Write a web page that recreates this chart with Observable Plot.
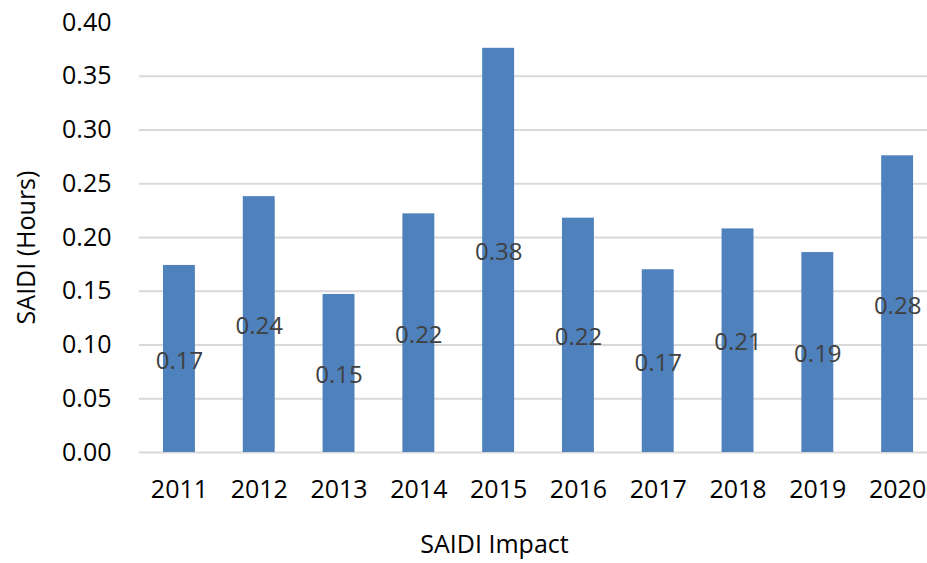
<!DOCTYPE html>
<html>
<head>
<meta charset="utf-8">
<script src="https://cdn.jsdelivr.net/npm/d3@7"></script>
<script src="https://cdn.jsdelivr.net/npm/@observablehq/plot@0.6"></script>
<style>
  html, body { margin: 0; padding: 0; background: #fff; }
  #chart svg { display: block; }
</style>
</head>
<body>
<div id="chart"></div>
<script>
const years = ["2011","2012","2013","2014","2015","2016","2017","2018","2019","2020"];
const saidi = [0.174, 0.238, 0.147, 0.222, 0.376, 0.218, 0.170, 0.208, 0.186, 0.276];
const yTicks = [0, 0.05, 0.10, 0.15, 0.20, 0.25, 0.30, 0.35, 0.40];
const gridTicks = [0, 0.05, 0.10, 0.15, 0.20, 0.25, 0.30, 0.35];
const xTitle = "SAIDI Impact";
const yTitle = "SAIDI (Hours)";

const data = years.map((y, i) => ({year: y, value: saidi[i]}));
const font = "'Open Sans', 'Noto Sans', sans-serif";

const chart = Plot.plot({
  width: 927,
  height: 563,
  marginLeft: 139,
  marginRight: 0,
  marginTop: 22,
  marginBottom: 111,
  style: {fontFamily: font, background: "#fff"},
  x: {type: "band", domain: years, paddingInner: 0.6, paddingOuter: 0.2375, align: 0.633, round: false},
  y: {domain: [0, 0.40]},
  marks: [
    Plot.ruleY(gridTicks, {stroke: "#d9d9d9", strokeWidth: 2}),
    Plot.barY(data, {x: "year", y: "value", fill: "#4f81bd"}),
    Plot.text(data, {
      x: "year", y: d => d.value / 2, text: d => d.value.toFixed(2),
      fill: "#404040", fontSize: 24, dy: 2
    }),
    Plot.axisY({
      ticks: yTicks, tickFormat: d => d.toFixed(2), tickSize: 0, tickPadding: 28,
      fontSize: 25, color: "#000", label: null
    }),
    Plot.axisX({
      tickSize: 0, tickPadding: 28, fontSize: 25, color: "#000", label: null
    }),
    Plot.text([xTitle], {
      frameAnchor: "bottom", text: d => d, dx: -39, dy: 100,
      fontSize: 25, fill: "#000"
    }),
    Plot.text([yTitle], {
      frameAnchor: "left", textAnchor: "middle", lineAnchor: "middle",
      text: d => d, rotate: -90, dx: -113, dy: 10,
      fontSize: 25, fill: "#000"
    })
  ]
});
document.getElementById("chart").appendChild(chart);
</script>
</body>
</html>
